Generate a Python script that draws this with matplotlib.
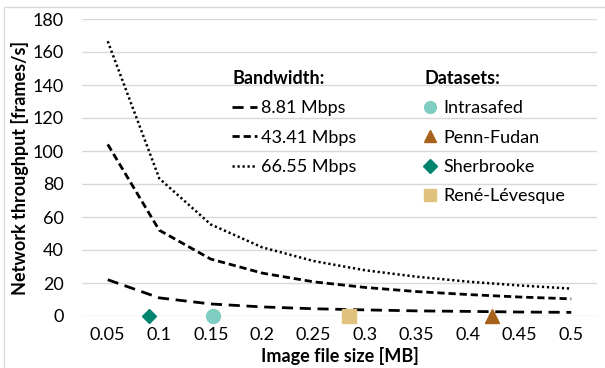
import matplotlib
matplotlib.use("Agg")
import matplotlib.pyplot as plt
from matplotlib.patches import Rectangle

# ---------------- data ----------------
sizes = [0.05, 0.1, 0.15, 0.2, 0.25, 0.3, 0.35, 0.4, 0.45, 0.5]
bw_labels = ["8.81 Mbps", "43.41 Mbps", "66.55 Mbps"]
bw_881 = [22.0, 11.0, 7.3, 5.5, 4.4, 3.7, 3.1, 2.8, 2.4, 2.2]
bw_4341 = [104.0, 52.0, 34.5, 26.0, 20.7, 17.3, 14.8, 13.0, 11.5, 10.4]
bw_6655 = [166.5, 83.4, 55.5, 41.6, 33.3, 27.7, 23.8, 20.8, 18.5, 16.6]

ds_labels = ["Intrasafed", "Penn-Fudan", "Sherbrooke", "René-Lévesque"]
ds_sizes = [0.152, 0.423, 0.09, 0.284]
ds_fps = [0, 0, 0, 0]

x_ticks = [0.05, 0.1, 0.15, 0.2, 0.25, 0.3, 0.35, 0.4, 0.45, 0.5]
x_ticklabels = ["0.05", "0.1", "0.15", "0.2", "0.25", "0.3", "0.35", "0.4", "0.45", "0.5"]
y_ticks = [0, 20, 40, 60, 80, 100, 120, 140, 160, 180]

# ---------------- style ----------------
plt.rcParams['font.family'] = ['Lato', 'DejaVu Sans']
FS = 13

W, H = 605, 368
fig = plt.figure(figsize=(W / 100, H / 100), dpi=100)
ax = fig.add_axes([82 / W, 1 - 316 / H, (597 - 82) / W, (316 - 19) / H])

# chart-area border
fig.patches.append(Rectangle((4 / W, -0.1), 1.2, 1.1 - 7 / H, transform=fig.transFigure,
                             fill=False, edgecolor='#D9D9D9', lw=1.0, zorder=0))

ax.set_xlim(0.025, 0.525)
ax.set_ylim(0, 180)
ax.set_yticks(y_ticks)
ax.set_xticks(x_ticks)
ax.set_xticklabels(x_ticklabels)
ax.grid(axis='y', color='#D9D9D9', lw=1.0)
ax.set_axisbelow(True)
for s in ax.spines.values():
    s.set_visible(False)
ax.tick_params(axis='both', length=0, labelsize=FS, colors='black')
ax.tick_params(axis='y', pad=13)
ax.tick_params(axis='x', pad=8)

l1, = ax.plot(sizes, bw_881, color='black', lw=2.0, dashes=(4.0, 2.4), label=bw_labels[0])
l2, = ax.plot(sizes, bw_4341, color='black', lw=2.0, dashes=(2.6, 1.4), label=bw_labels[1])
l3, = ax.plot(sizes, bw_6655, color='black', lw=1.8, dashes=(0.9, 1.1),
              dash_capstyle='butt', label=bw_labels[2])

ds_colors = ['#80CDC1', '#A6611A', '#018571', '#DFC27D']
ds_markers = ['o', '^', 'D', 's']
ds_msize = [10, 10, 7.5, 10]
handles2 = []
for lab, xv, yv, c, m, ms in zip(ds_labels, ds_sizes, ds_fps, ds_colors, ds_markers, ds_msize):
    h, = ax.plot([xv], [yv], linestyle='none', marker=m, color=c, markersize=ms,
                 clip_on=False, zorder=5, label=lab)
    handles2.append(h)

ax.set_xlabel("Image file size [MB]", fontsize=FS, fontweight='bold', labelpad=3)
ax.set_ylabel("Network throughput [frames/s]", fontsize=FS, fontweight='bold', labelpad=3)

leg1 = fig.legend(handles=[l1, l2, l3], loc='upper left',
                  bbox_to_anchor=(232 / W, 1 - 70 / H), bbox_transform=fig.transFigure,
                  frameon=False, fontsize=FS, title="Bandwidth:",
                  title_fontproperties={'weight': 'bold', 'size': FS},
                  alignment='left', borderpad=0, handlelength=1.4, handletextpad=0.2,
                  labelspacing=0.74, borderaxespad=0)
leg2 = fig.legend(handles=handles2, loc='upper left',
                  bbox_to_anchor=(424 / W, 1 - 70 / H), bbox_transform=fig.transFigure,
                  frameon=False, fontsize=FS, title="Datasets:",
                  title_fontproperties={'weight': 'bold', 'size': FS},
                  alignment='left', borderpad=0, handlelength=0.7, handletextpad=0.35,
                  labelspacing=0.74, borderaxespad=0)
for h, m in zip(leg2.legend_handles, ds_markers):
    h.set_markersize(7 if m == 'D' else 8.5)

fig.savefig("out.png", dpi=100)
